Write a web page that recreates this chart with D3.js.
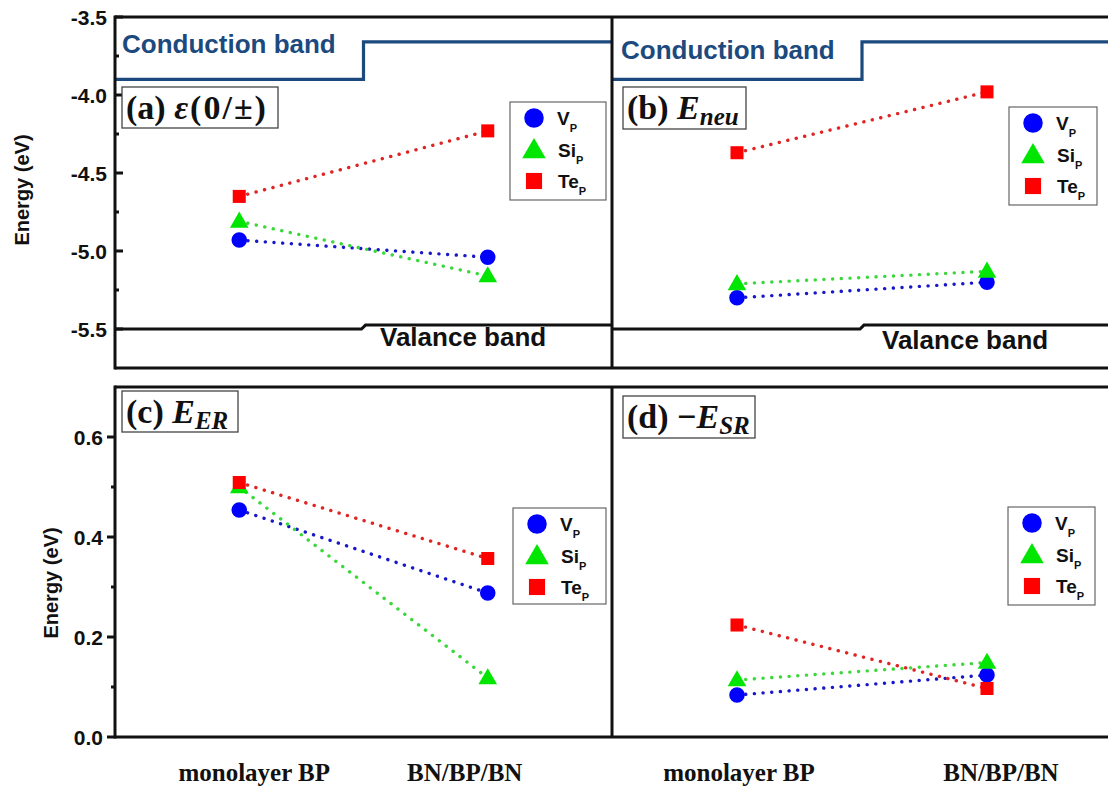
<!DOCTYPE html>
<html lang="en">
<head>
<meta charset="UTF-8">
<title>Defect levels: monolayer BP vs BN/BP/BN</title>
<script src="https://d3js.org/d3.v7.min.js"></script>
<style>
  body { margin: 0; background: #fff; }
  svg { display: block; background: #fff; font-family: Arial, "Liberation Sans", sans-serif; }
  .tick-label { font-size: 21px; font-weight: bold; fill: #111; }
  .axis-title { font-size: 20px; font-weight: bold; fill: #111; }
  .band-cb { font-size: 26px; font-weight: bold; fill: #1c4a7e; }
  .band-vb { font-size: 26px; font-weight: bold; fill: #111; }
  .cat-label { font-family: "Liberation Serif", "Times New Roman", serif; font-size: 25px; font-weight: bold; fill: #111; }
  .panel-label { font-family: "Liberation Serif", "Times New Roman", serif; font-size: 34px; font-weight: bold; fill: #111; }
  .legend-text { font-size: 19px; font-weight: bold; fill: #111; }
</style>
</head>
<body>
<svg width="1108" height="789"></svg>
<script>
const categories = ["monolayer BP", "BN/BP/BN"];
const species = ["V", "Si", "Te"];

// (a) epsilon(0/±), eV
const epsV = [-4.93, -5.04];
const epsSi = [-4.81, -5.16];
const epsTe = [-4.65, -4.23];
// (b) E_neu, eV
const neuV = [-5.30, -5.20];
const neuSi = [-5.21, -5.13];
const neuTe = [-4.37, -3.98];
// (c) E_ER, eV
const erV = [0.454, 0.288];
const erSi = [0.500, 0.118];
const erTe = [0.509, 0.357];
// (d) -E_SR, eV
const srV = [0.084, 0.124];
const srSi = [0.114, 0.149];
const srTe = [0.224, 0.097];

// band edges (left half = monolayer BP, right half = BN/BP/BN)
const cbLevels = [-3.90, -3.66];
const vbLevels = [-5.50, -5.475];

const topTicks = [-3.5, -4.0, -4.5, -5.0, -5.5];
const topMinor = [-3.75, -4.25, -4.75, -5.25];
const bottomTicks = [0.0, 0.2, 0.4, 0.6];
const bottomMinor = [0.1, 0.3, 0.5];

const markerColors = ["#0000ff", "#00e600", "#ff0000"];
const dotColors = ["#1818c8", "#3ad83a", "#e02424"];

const svg = d3.select("svg");

const x0 = 115, xMid = 612, xEnd = 1112;
const topY = [17, 368], botY = [387, 737];

const yTop = d3.scaleLinear().domain([-5.75, -3.5]).range([topY[1], topY[0]]);
const yBot = d3.scaleLinear().domain([0, 0.7]).range([botY[1], botY[0]]);
const xLeft = d3.scalePoint().domain(categories).range([x0, xMid]).padding(0.5);
const xRight = d3.scalePoint().domain(categories).range([xMid, xEnd]).padding(0.5);

const dotted = d3.line().x(d => d[0]).y(d => d[1]);

function markerPath(i, size) {
  const sym = [d3.symbolCircle, d3.symbolTriangle, d3.symbolSquare][i];
  return d3.symbol().type(sym).size(size)();
}

function drawBands(x, y, l, r, cbPos, vbPos) {
  const mid = (l + r) / 2;
  const g = svg.append("g");
  g.append("path")
    .attr("d", `M${l},${y(cbLevels[0])}H${mid}V${y(cbLevels[1])}H${r}`)
    .attr("fill", "none").attr("stroke", "#1c4a7e").attr("stroke-width", 3.2);
  g.append("path")
    .attr("d", `M${l},${y(vbLevels[0])}H${mid - 2}L${mid + 2},${y(vbLevels[1])}H${r}`)
    .attr("fill", "none").attr("stroke", "#111").attr("stroke-width", 3);
  g.append("text").attr("class", "band-cb").attr("x", cbPos[0]).attr("y", cbPos[1]).text("Conduction band");
  g.append("text").attr("class", "band-vb").attr("x", vbPos[0]).attr("y", vbPos[1]).text("Valance band");
}

function drawSeries(x, y, sets) {
  const g = svg.append("g");
  sets.forEach((vals, i) => {
    const pts = categories.map((c, j) => [x(c), y(vals[j])]);
    g.append("path")
      .attr("d", dotted(pts))
      .attr("fill", "none")
      .attr("stroke", dotColors[i])
      .attr("stroke-width", 3.4)
      .attr("stroke-linecap", "round")
      .attr("stroke-dasharray", "0.1 8.6");
  });
  sets.forEach((vals, i) => {
    const size = [190, 150, 170][i];
    g.selectAll(null)
      .data(vals)
      .join("path")
      .attr("transform", (d, j) => `translate(${x(categories[j])},${y(d) + (i === 1 ? 1 : 0)})`)
      .attr("d", markerPath(i, size))
      .attr("fill", markerColors[i]);
  });
}

function drawLegend(bx, by, bw, bh) {
  const g = svg.append("g").attr("transform", `translate(${bx},${by})`);
  g.append("rect").attr("width", bw).attr("height", bh)
    .attr("fill", "#fff").attr("stroke", "#666").attr("stroke-width", 1.2);
  species.forEach((s, i) => {
    const ry = 16 + i * 31.5;
    g.append("path")
      .attr("transform", `translate(24,${ry + (i === 1 ? 2 : 0)})`)
      .attr("d", markerPath(i, [300, 240, 260][i]))
      .attr("fill", markerColors[i]);
    const t = g.append("text").attr("class", "legend-text")
      .attr("x", i === 0 ? 47 : 48).attr("y", ry + 7);
    t.append("tspan").text(s);
    t.append("tspan").attr("font-size", 11).attr("dy", 7).text("P");
  });
}

function drawLabelBox(bx, by, bw, bh, build) {
  const g = svg.append("g");
  g.append("rect").attr("x", bx).attr("y", by).attr("width", bw).attr("height", bh)
    .attr("fill", "#fff").attr("stroke", "#444").attr("stroke-width", 1.3);
  const t = g.append("text").attr("class", "panel-label").attr("x", bx + 4).attr("y", by + 32);
  build(t);
}

function drawYAxis(y, ticks, minor, inward, labelX) {
  const g = svg.append("g");
  const dir = inward ? 1 : -1;
  g.selectAll(null).data(ticks).join("line")
    .attr("x1", x0).attr("x2", x0 + dir * 8)
    .attr("y1", d => y(d)).attr("y2", d => y(d))
    .attr("stroke", "#111").attr("stroke-width", 3);
  g.selectAll(null).data(minor).join("line")
    .attr("x1", x0).attr("x2", x0 + dir * 4)
    .attr("y1", d => y(d)).attr("y2", d => y(d))
    .attr("stroke", "#111").attr("stroke-width", 3);
  g.selectAll(null).data(ticks).join("text")
    .attr("class", "tick-label")
    .attr("x", labelX).attr("y", d => y(d))
    .attr("text-anchor", "end").attr("dominant-baseline", "central")
    .text(d => d3.format(".1f")(d).replace("\u2212", "-"));
}

function drawFrame(yr) {
  const g = svg.append("g").attr("stroke", "#111").attr("stroke-width", 3).attr("fill", "none");
  g.append("path").attr("d", `M${x0},${yr[0]}H${xEnd}M${x0},${yr[1]}H${xEnd}`);
  g.append("path").attr("d", `M${x0},${yr[0] - 1.5}V${yr[1] + 1.5}M${xMid},${yr[0]}V${yr[1]}`);
}

// ---- top row: (a), (b)
drawBands(xLeft, yTop, x0, xMid, [122, 53], [380, 346]);
drawBands(xRight, yTop, xMid, xEnd, [621, 59], [882, 349]);
drawSeries(xLeft, yTop, [epsV, epsSi, epsTe]);
drawSeries(xRight, yTop, [neuV, neuSi, neuTe]);
drawFrame(topY);
drawYAxis(yTop, topTicks, topMinor, true, 107);

drawLabelBox(122, 87, 156, 41, t => {
  t.append("tspan").text("(a) ");
  t.append("tspan").attr("font-style", "italic").attr("letter-spacing", 2).text("\u03b5");
  t.append("tspan").attr("letter-spacing", 2).text("(0/\u00b1)");
});
drawLabelBox(623, 87, 123, 42, t => {
  t.append("tspan").text("(b) ");
  t.append("tspan").attr("font-style", "italic").text("E");
  t.append("tspan").attr("font-style", "italic").attr("font-size", 25).attr("dy", 6).text("neu");
});
drawLegend(510, 102, 96, 98);
drawLegend(1009, 107, 88, 98);

// ---- bottom row: (c), (d)
drawSeries(xLeft, yBot, [erV, erSi, erTe]);
drawSeries(xRight, yBot, [srV, srSi, srTe]);
drawFrame(botY);
drawYAxis(yBot, bottomTicks, bottomMinor, false, 103);

drawLabelBox(122, 391, 116, 41, t => {
  t.append("tspan").text("(c) ");
  t.append("tspan").attr("font-style", "italic").text("E");
  t.append("tspan").attr("font-style", "italic").attr("font-size", 25).attr("dy", 6).text("ER");
});
drawLabelBox(623, 396, 132, 42, t => {
  t.append("tspan").text("(d) \u2212");
  t.append("tspan").attr("font-style", "italic").text("E");
  t.append("tspan").attr("font-style", "italic").attr("font-size", 25).attr("dy", 6).text("SR");
});
drawLegend(513, 508, 93, 96);
drawLegend(1008, 507, 87, 98);

// category labels under bottom panels
const catOffsets = [[15, -23], [2, 14]];
[xLeft, xRight].forEach((x, k) => {
  svg.selectAll(null).data(categories).join("text")
    .attr("class", "cat-label")
    .attr("x", (d, j) => x(d) + catOffsets[k][j])
    .attr("y", 781)
    .attr("text-anchor", "middle")
    .text(d => d);
});

// y axis titles
svg.append("text").attr("class", "axis-title")
  .attr("transform", "translate(22,190) rotate(-90)")
  .attr("text-anchor", "middle").attr("dominant-baseline", "central")
  .text("Energy (eV)");
svg.append("text").attr("class", "axis-title")
  .attr("transform", "translate(51,583) rotate(-90)")
  .attr("text-anchor", "middle").attr("dominant-baseline", "central")
  .text("Energy (eV)");
</script>
</body>
</html>
